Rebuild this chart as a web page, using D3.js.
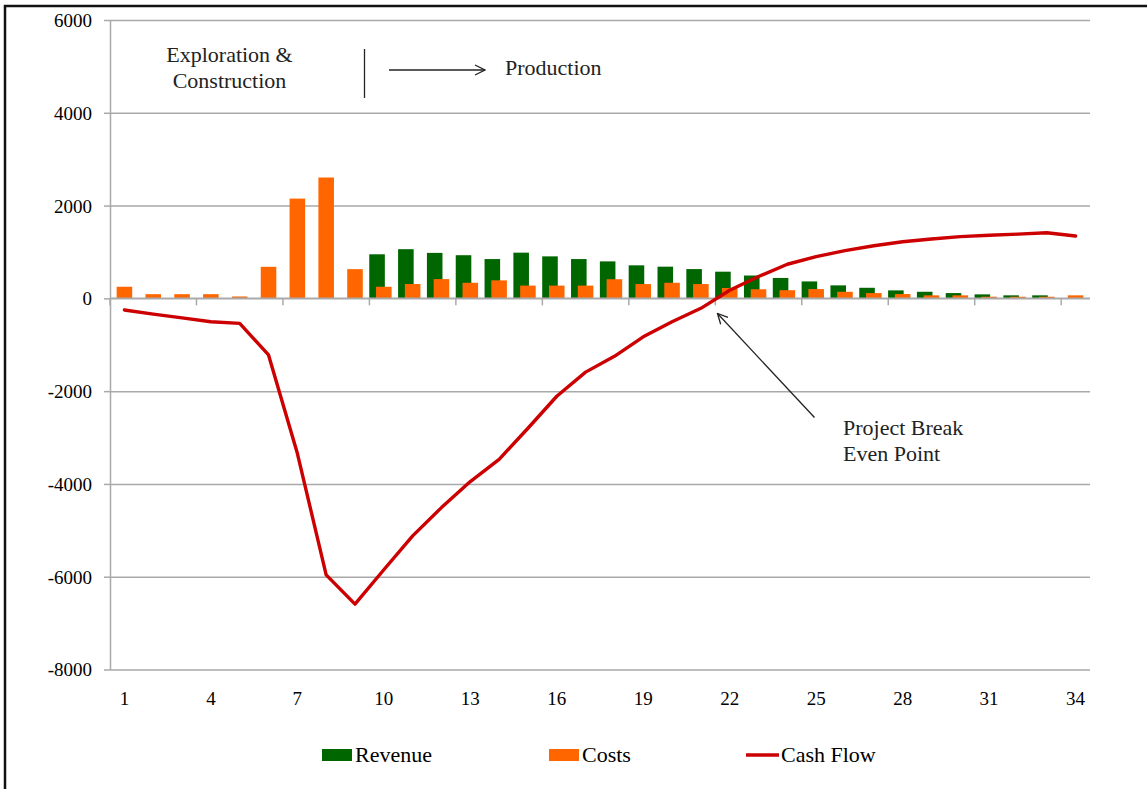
<!DOCTYPE html>
<html>
<head>
<meta charset="utf-8">
<script src="https://cdn.jsdelivr.net/npm/d3@7"></script>
<style>
  html, body { margin: 0; padding: 0; background: #fff; }
  svg { display: block; font-family: "Liberation Serif", "Times New Roman", serif; }
</style>
</head>
<body>
<svg id="chart" width="1147" height="789"></svg>
<script>
// Project years
const categories = [1,2,3,4,5,6,7,8,9,10,11,12,13,14,15,16,17,18,19,20,21,22,23,24,25,26,27,28,29,30,31,32,33,34];
// Annual revenue
const revenue = [0,0,0,0,0,0,0,0,0,950,1060,980,930,847,985,905,847,797,712,683,631,575,492,440,365,280,228,172,142,114,86,65,65,0];
// Annual costs
const costs = [250,90,90,90,40,680,2150,2605,630,250,310,415,336,388,275,275,275,412,308,336,308,224,196,176,200,142,114,93,65,65,35,35,35,65];
// Cumulative cash flow
const cashFlow = [-250,-340,-420,-505,-540,-1220,-3340,-5960,-6590,-5850,-5120,-4510,-3950,-3470,-2800,-2110,-1590,-1250,-830,-505,-215,175,470,735,900,1030,1135,1220,1280,1330,1360,1385,1415,1345];
// Axis labels
const yTicks = [-8000,-6000,-4000,-2000,0,2000,4000,6000];
const xTickLabels = [1,4,7,10,13,16,19,22,25,28,31,34];

const series = [
  { name: "Revenue", color: "#006600", type: "bar" },
  { name: "Costs", color: "#ff6600", type: "bar" },
  { name: "Cash Flow", color: "#cc0000", type: "line" }
];

const svg = d3.select("#chart");
const plot = { left: 110, right: 1090, top: 20, bottom: 669.5 };

const x = d3.scaleBand().domain(categories).range([plot.left, plot.right]).padding(0);
const y = d3.scaleLinear().domain([-8000, 6000]).range([plot.bottom, plot.top]);
const bw = x.bandwidth();
const barW = bw * 0.54;
const center = c => x(c) + bw / 2;

// outer frame
svg.append("path")
  .attr("d", "M5,789 V6 H1147")
  .attr("fill", "none").attr("stroke", "#111").attr("stroke-width", 2.5);

const gridColor = "#a9a9a9";

// horizontal gridlines
svg.append("g")
  .attr("transform", `translate(${plot.left},0)`)
  .call(d3.axisLeft(y).tickValues(yTicks).tickSize(-(plot.right - plot.left)).tickFormat(""))
  .call(g => g.select(".domain").remove())
  .call(g => g.selectAll("line").attr("stroke", gridColor).attr("stroke-width", 1.5));

// value axis (plain hyphen for negatives)
svg.append("g")
  .attr("transform", `translate(${plot.left},0)`)
  .call(d3.axisLeft(y).tickValues(yTicks).tickSize(6).tickPadding(12).tickSizeOuter(0).tickFormat(d => String(d)))
  .call(g => g.select(".domain").attr("stroke", gridColor).attr("stroke-width", 1.5))
  .call(g => g.selectAll("line").attr("stroke", gridColor).attr("stroke-width", 1.5))
  .call(g => g.selectAll("text").attr("font-size", 19).attr("fill", "#000")
    .attr("font-family", "Liberation Serif").style("font-family", "Liberation Serif").attr("dy", "0.34em"));

// revenue bars (set slightly left of the category centre)
svg.append("g").selectAll("rect")
  .data(categories.map((c, i) => ({ c, v: revenue[i] })).filter(d => d.v > 0))
  .join("rect")
  .attr("x", d => center(d.c) - barW / 2 - bw * 0.235)
  .attr("width", barW)
  .attr("y", d => y(d.v))
  .attr("height", d => y(0) - y(d.v))
  .attr("fill", series[0].color);

// cost bars
svg.append("g").selectAll("rect")
  .data(categories.map((c, i) => ({ c, v: costs[i] })))
  .join("rect")
  .attr("x", d => center(d.c) - barW / 2)
  .attr("width", barW)
  .attr("y", d => y(d.v))
  .attr("height", d => y(0) - y(d.v))
  .attr("fill", series[1].color);

// category axis along zero
const xAxis = svg.append("g");
xAxis.append("line")
  .attr("x1", plot.left).attr("x2", plot.right)
  .attr("y1", y(0)).attr("y2", y(0))
  .attr("stroke", gridColor).attr("stroke-width", 1.5);
xAxis.selectAll("line.tick")
  .data(categories.filter((c, i) => i % 3 === 0))
  .join("line")
  .attr("class", "tick")
  .attr("x1", d => x(d)).attr("x2", d => x(d))
  .attr("y1", y(0)).attr("y2", y(0) + 7)
  .attr("stroke", gridColor).attr("stroke-width", 1.5);

// category labels at the bottom
svg.append("g").selectAll("text")
  .data(xTickLabels)
  .join("text")
  .attr("x", d => center(d))
  .attr("y", 704.5)
  .attr("text-anchor", "middle")
  .attr("font-size", 19)
  .attr("fill", "#000")
  .text(d => d);

// cash flow line
svg.append("path")
  .datum(categories.map((c, i) => [center(c), y(cashFlow[i])]))
  .attr("d", d3.line())
  .attr("fill", "none")
  .attr("stroke", series[2].color)
  .attr("stroke-width", 3.4)
  .attr("stroke-linejoin", "round")
  .attr("stroke-linecap", "round");

// annotations
const defs = svg.append("defs");
defs.append("marker")
  .attr("id", "openArrow")
  .attr("viewBox", "0 0 12 12")
  .attr("refX", 11).attr("refY", 6)
  .attr("markerWidth", 12).attr("markerHeight", 12)
  .attr("markerUnits", "userSpaceOnUse")
  .attr("orient", "auto")
  .append("path")
  .attr("d", "M1,1 L11,6 L1,11")
  .attr("fill", "none").attr("stroke", "#222").attr("stroke-width", 1.3);

const ann = svg.append("g").attr("font-size", 22).attr("fill", "#222");
ann.append("text").attr("x", 229.5).attr("y", 61.5).attr("text-anchor", "middle").text("Exploration &");
ann.append("text").attr("x", 229.5).attr("y", 87.5).attr("text-anchor", "middle").text("Construction");
ann.append("line").attr("x1", 364.5).attr("x2", 364.5).attr("y1", 49).attr("y2", 98)
  .attr("stroke", "#222").attr("stroke-width", 1.3);
ann.append("line").attr("x1", 389).attr("x2", 485).attr("y1", 70).attr("y2", 70)
  .attr("stroke", "#222").attr("stroke-width", 1.3).attr("marker-end", "url(#openArrow)");
ann.append("text").attr("x", 505).attr("y", 75).text("Production");

ann.append("line").attr("x1", 814.5).attr("y1", 417.5).attr("x2", 717.5).attr("y2", 313.5)
  .attr("stroke", "#222").attr("stroke-width", 1.3).attr("marker-end", "url(#openArrow)");
ann.append("text").attr("x", 843).attr("y", 434.5).text("Project Break");
ann.append("text").attr("x", 843).attr("y", 460.5).text("Even Point");

// legend
const legendX = [322, 549, 746];
const legend = svg.append("g").selectAll("g")
  .data(series)
  .join("g")
  .attr("transform", (d, i) => `translate(${legendX[i]},755)`);
legend.filter(d => d.type === "bar").append("rect")
  .attr("x", 0).attr("y", -6).attr("width", 30).attr("height", 12)
  .attr("fill", d => d.color);
legend.filter(d => d.type === "line").append("line")
  .attr("x1", 0).attr("x2", 33).attr("y1", 0).attr("y2", 0)
  .attr("stroke", d => d.color).attr("stroke-width", 3.4);
legend.append("text")
  .attr("x", d => d.type === "line" ? 35 : 33)
  .attr("y", 7)
  .attr("font-size", 22)
  .attr("fill", "#000")
  .text(d => d.name);
</script>
</body>
</html>
